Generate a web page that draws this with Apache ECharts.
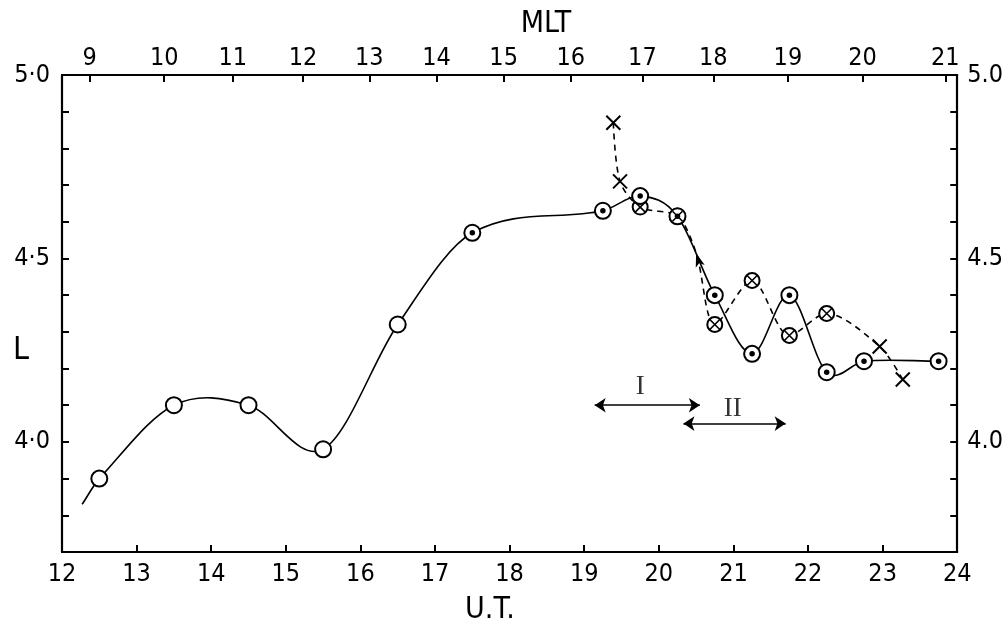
<!DOCTYPE html>
<html><head><meta charset="utf-8">
<script src="https://cdn.jsdelivr.net/npm/echarts@6/dist/echarts.min.js"></script>
<style>html,body{margin:0;padding:0;background:#fff}#c{width:1006px;height:627px}</style>
</head><body><div id="c"></div>
<script>
// ---- data ----
const curveStart = [[12.27, 3.83]];
const openCircles = [[12.5, 3.90], [13.5, 4.10], [14.5, 4.10], [15.5, 3.98], [16.5, 4.32]];
const dottedCircles = [[17.5, 4.57], [19.25, 4.63], [19.75, 4.67], [20.25, 4.615], [20.75, 4.40],
  [21.25, 4.24], [21.75, 4.40], [22.25, 4.19], [22.75, 4.22], [23.75, 4.22]];
const crossesEarly = [[19.39, 4.87], [19.48, 4.71]];
const crossedCircles = [[19.75, 4.64], [20.25, 4.615], [20.75, 4.32], [21.25, 4.44], [21.75, 4.29], [22.25, 4.35]];
const arrowOnDashed = [[20.5, 4.515]];
const crossesLate = [[22.96, 4.26], [23.27, 4.17]];
const periodI = [[19.14, 4.10], [20.55, 4.10]];
const periodII = [[20.33, 4.05], [21.70, 4.05]];
const periodLabels = ['I', 'II'];
const periodLabelPos = [[19.75, 4.15], [20.99, 4.09]];
const utMin = 12, utMax = 24, utInterval = 1;
const lMin = 3.7, lMax = 5.0, lInterval = 0.1;
const mltLabels = ['9', '10', '11', '12', '13', '14', '15', '16', '17', '18', '19', '20', '21'];
const mltPositions = [12.37, 13.37, 14.29, 15.23, 16.12, 17.02, 17.92, 18.82, 19.78, 20.73, 21.73, 22.73, 23.84];
const lLabelValues = [4.0, 4.5, 5.0];
const lLabelsLeft = ['4·0', '4·5', '5·0'];
const lLabelsRight = ['4.0', '4.5', '5.0'];

const FONT = "'DejaVu Sans Condensed','Liberation Sans Narrow','DejaVu Sans',sans-serif";
const solidCurve = curveStart.concat(openCircles, dottedCircles);
const dashedCurve = [...crossesEarly, ...crossedCircles, ...arrowOnDashed, ...crossesLate].sort((a, b) => a[0] - b[0]);
const X_PATH = 'path://M0,0L10,10M10,0L0,10';

function lLabel(list) {
  return function (v) {
    const i = lLabelValues.findIndex(t => Math.abs(t - v) < 1e-6);
    return i < 0 ? '' : list[i];
  };
}
function mltLabel(v) {
  let best = 0;
  for (let i = 1; i < mltPositions.length; i++) {
    if (Math.abs(mltPositions[i] - v) < Math.abs(mltPositions[best] - v)) best = i;
  }
  return mltLabels[best];
}
// smooth curve (cubic Hermite) through the data, drawn in the chart's own coordinates
function hermiteRender(points, dash) {
  return function (params, api) {
    if (params.dataIndex !== 0) return null;
    const p = points.map(d => api.coord(d));
    const n = p.length;
    const m = p.map((pt, i) => {
      const a = p[Math.max(0, i - 1)], b = p[Math.min(n - 1, i + 1)];
      return (b[1] - a[1]) / (b[0] - a[0]);
    });
    let d = 'M' + p[0][0] + ',' + p[0][1];
    for (let i = 0; i < n - 1; i++) {
      const h = (p[i + 1][0] - p[i][0]) / 3;
      d += 'C' + (p[i][0] + h) + ',' + (p[i][1] + m[i] * h) + ' ' +
        (p[i + 1][0] - h) + ',' + (p[i + 1][1] - m[i + 1] * h) + ' ' +
        p[i + 1][0] + ',' + p[i + 1][1];
    }
    return { type: 'path', shape: { pathData: d },
      style: { fill: 'none', stroke: '#000', lineWidth: 1.6, lineDash: dash || null } };
  };
}
const axisLineStyle = { show: true, lineStyle: { color: '#000', width: 2.2 } };
const tickStyle = { show: true, inside: true, length: 7, lineStyle: { color: '#000', width: 2 } };
const labelStyle = { color: '#000', fontFamily: FONT, fontSize: 25 };

const chart = echarts.init(document.getElementById('c'), null, { renderer: 'canvas' });
chart.setOption({
  animation: false,
  backgroundColor: '#fff',
  grid: { left: 62, right: 44, top: 75, bottom: 75 },
  xAxis: [
    { type: 'value', position: 'bottom', min: utMin, max: utMax, interval: utInterval,
      axisLine: axisLineStyle, axisTick: tickStyle, splitLine: { show: false },
      axisLabel: Object.assign({ margin: 10 }, labelStyle) },
    { type: 'value', position: 'top', min: utMin, max: utMax,
      axisLine: axisLineStyle, splitLine: { show: false },
      axisTick: Object.assign({}, tickStyle, { customValues: mltPositions }),
      axisLabel: Object.assign({ margin: 4, customValues: mltPositions, formatter: mltLabel }, labelStyle) }
  ],
  yAxis: [
    { type: 'value', position: 'left', min: lMin, max: lMax, interval: lInterval,
      axisLine: axisLineStyle, axisTick: tickStyle, splitLine: { show: false },
      axisLabel: Object.assign({ margin: 12, formatter: lLabel(lLabelsLeft) }, labelStyle) },
    { type: 'value', position: 'right', min: lMin, max: lMax, interval: lInterval,
      axisLine: axisLineStyle, axisTick: tickStyle, splitLine: { show: false },
      axisLabel: Object.assign({ margin: 10, formatter: lLabel(lLabelsRight) }, labelStyle) }
  ],
  graphic: [
    { type: 'text', x: 546, y: 24, style: { text: 'MLT', align: 'center', verticalAlign: 'middle', font: "30px " + FONT, fill: '#000' } },
    { type: 'text', x: 490, y: 610, style: { text: 'U.T.', align: 'center', verticalAlign: 'middle', font: "30px " + FONT, fill: '#000' } },
    { type: 'text', x: 21, y: 351, style: { text: 'L', align: 'center', verticalAlign: 'middle', font: "32px " + FONT, fill: '#000' } }
  ],
  series: [
    { type: 'custom', coordinateSystem: 'cartesian2d', data: solidCurve, z: 2, silent: true,
      renderItem: hermiteRender(solidCurve) },
    { type: 'line', data: dashedCurve, smooth: 0.3, symbol: 'none', z: 2,
      lineStyle: { color: '#000', width: 1.6, type: [6, 5] } },
    { type: 'scatter', data: crossedCircles, symbol: 'circle', symbolSize: 15, z: 3,
      itemStyle: { color: '#fff', borderColor: '#000', borderWidth: 2, opacity: 1 } },
    { type: 'scatter', data: openCircles.concat(dottedCircles), symbol: 'circle', symbolSize: 16, z: 3,
      itemStyle: { color: '#fff', borderColor: '#000', borderWidth: 2, opacity: 1 } },
    { type: 'scatter', data: crossedCircles, symbol: X_PATH, symbolSize: 10, z: 4,
      itemStyle: { color: 'rgba(0,0,0,0)', borderColor: '#000', borderWidth: 1.6, opacity: 1 } },
    { type: 'scatter', data: dottedCircles, symbol: 'circle', symbolSize: 5.5, z: 4,
      itemStyle: { color: '#000', opacity: 1 } },
    { type: 'scatter', data: crossesEarly.concat(crossesLate), symbol: X_PATH, symbolSize: 14, z: 4,
      itemStyle: { color: 'rgba(0,0,0,0)', borderColor: '#000', borderWidth: 2, opacity: 1 } },
    { type: 'scatter', data: arrowOnDashed, symbol: 'arrow', symbolSize: [7, 14], symbolRotate: 17, z: 4,
      itemStyle: { color: '#000', opacity: 1 } },
    { type: 'lines', coordinateSystem: 'cartesian2d', z: 4,
      data: [{ coords: periodI }, { coords: periodII }],
      symbol: ['arrow', 'arrow'], symbolSize: 11,
      lineStyle: { color: '#000', width: 1.6, opacity: 1 } },
    { type: 'scatter', symbolSize: 1, z: 4, itemStyle: { color: 'rgba(0,0,0,0)' },
      data: periodLabelPos.map((p, i) => ({ value: p, name: periodLabels[i] })),
      label: { show: true, position: 'inside', formatter: '{b}', color: '#000',
        fontFamily: "'Liberation Serif','DejaVu Serif',serif", fontSize: 27 } }
  ]
});
</script>
</body></html>
